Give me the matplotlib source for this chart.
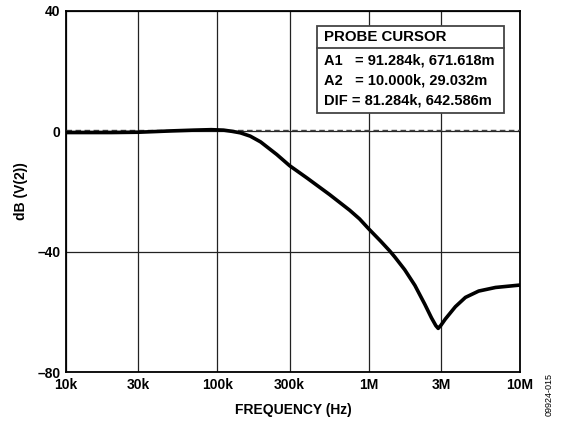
import matplotlib
matplotlib.use("Agg")
import matplotlib.pyplot as plt
from matplotlib.ticker import FixedLocator, NullLocator

freq_hz = [10e3, 20e3, 30e3, 40e3, 50e3, 70e3, 91e3, 110e3, 125e3, 142e3,
           165e3, 193e3, 247e3, 300e3, 391e3, 551e3, 748e3, 870e3, 1e6, 1.2e6,
           1.38e6, 1.49e6, 1.73e6, 2.02e6, 2.35e6, 2.6e6, 2.78e6, 2.88e6,
           3.0e6, 3.21e6, 3.74e6, 4.36e6, 5.33e6, 6.89e6, 10e6]
gain_db = [-0.4, -0.4, -0.3, -0.05, 0.15, 0.4, 0.55, 0.4, 0.0, -0.5,
           -1.6, -3.5, -7.7, -11.4, -15.5, -21.0, -26.2, -29.1, -32.4, -36.5,
           -39.8, -41.8, -46.0, -51.2, -57.5, -62.0, -64.6, -65.5,
           -64.5, -62.4, -58.3, -55.2, -53.1, -51.9, -51.1]

x_ticks = [10e3, 30e3, 100e3, 300e3, 1e6, 3e6, 10e6]
x_labels = ["10k", "30k", "100k", "300k", "1M", "3M", "10M"]
y_ticks = [-80, -40, 0, 40]
y_labels = ["\u201380", "\u201340", "0", "40"]
ref_db = 0.5

cursor_title = "PROBE CURSOR"
cursor_rows = ["A1   = 91.284k, 671.618m",
               "A2   = 10.000k, 29.032m",
               "DIF = 81.284k, 642.586m"]

plt.rcParams['font.family'] = ['Liberation Sans', 'DejaVu Sans']

fig = plt.figure(figsize=(5.64, 4.30), dpi=100)
ax = fig.add_axes([66 / 564, 1 - 372 / 430, (520 - 66) / 564, (372 - 11) / 430])
ax.set_xscale('log')
ax.set_xlim(10e3, 10e6)
ax.set_ylim(-80, 40)

ax.xaxis.set_major_locator(FixedLocator(x_ticks))
ax.xaxis.set_minor_locator(NullLocator())
ax.set_xticks(x_ticks)
ax.set_xticklabels(x_labels)
ax.set_yticks(y_ticks)
ax.set_yticklabels(y_labels)
ax.tick_params(axis='both', length=0, pad=4, labelsize=10)
for lab in ax.get_xticklabels() + ax.get_yticklabels():
    lab.set_fontweight('bold')

ax.grid(True, color='#222222', linewidth=0.9)
for sp in ax.spines.values():
    sp.set_linewidth(1.3)
    sp.set_color('black')

ax.axhline(ref_db, color='#444444', linestyle=(0, (4, 2.5)), linewidth=1.0, zorder=3)
ax.plot(freq_hz, gain_db, color='black', linewidth=2.6, zorder=4,
        solid_capstyle='round', solid_joinstyle='round')

ax.set_xlabel("FREQUENCY (Hz)", fontsize=10, fontweight='bold', labelpad=8)
ax.set_ylabel("dB (V(2))", fontsize=10, fontweight='bold', labelpad=7)

# Probe cursor box (figure pixel coords)
def fx(px):
    return px / 564

def fy(py):
    return 1 - py / 430

box = plt.Rectangle((fx(317), fy(113)), fx(504) - fx(317), fy(26) - fy(113),
                    transform=fig.transFigure, facecolor='white',
                    edgecolor='#444444', linewidth=1.3, zorder=10)
fig.add_artist(box)
fig.add_artist(plt.Line2D([fx(317), fx(504)], [fy(48), fy(48)],
                          transform=fig.transFigure, color='#444444',
                          linewidth=1.3, zorder=11))
fig.text(fx(324), fy(37), cursor_title, fontsize=10.8, fontweight='bold',
         va='center', ha='left', zorder=12)
for i, row in enumerate(cursor_rows):
    fig.text(fx(324), fy(60.5 + 20 * i), row, fontsize=10.5, fontweight='bold',
             va='center', ha='left', zorder=12)

fig.text(fx(549), fy(395), "09924-015", fontsize=6.5, rotation=90,
         va='center', ha='center')

fig.savefig("out.png", dpi=100)
